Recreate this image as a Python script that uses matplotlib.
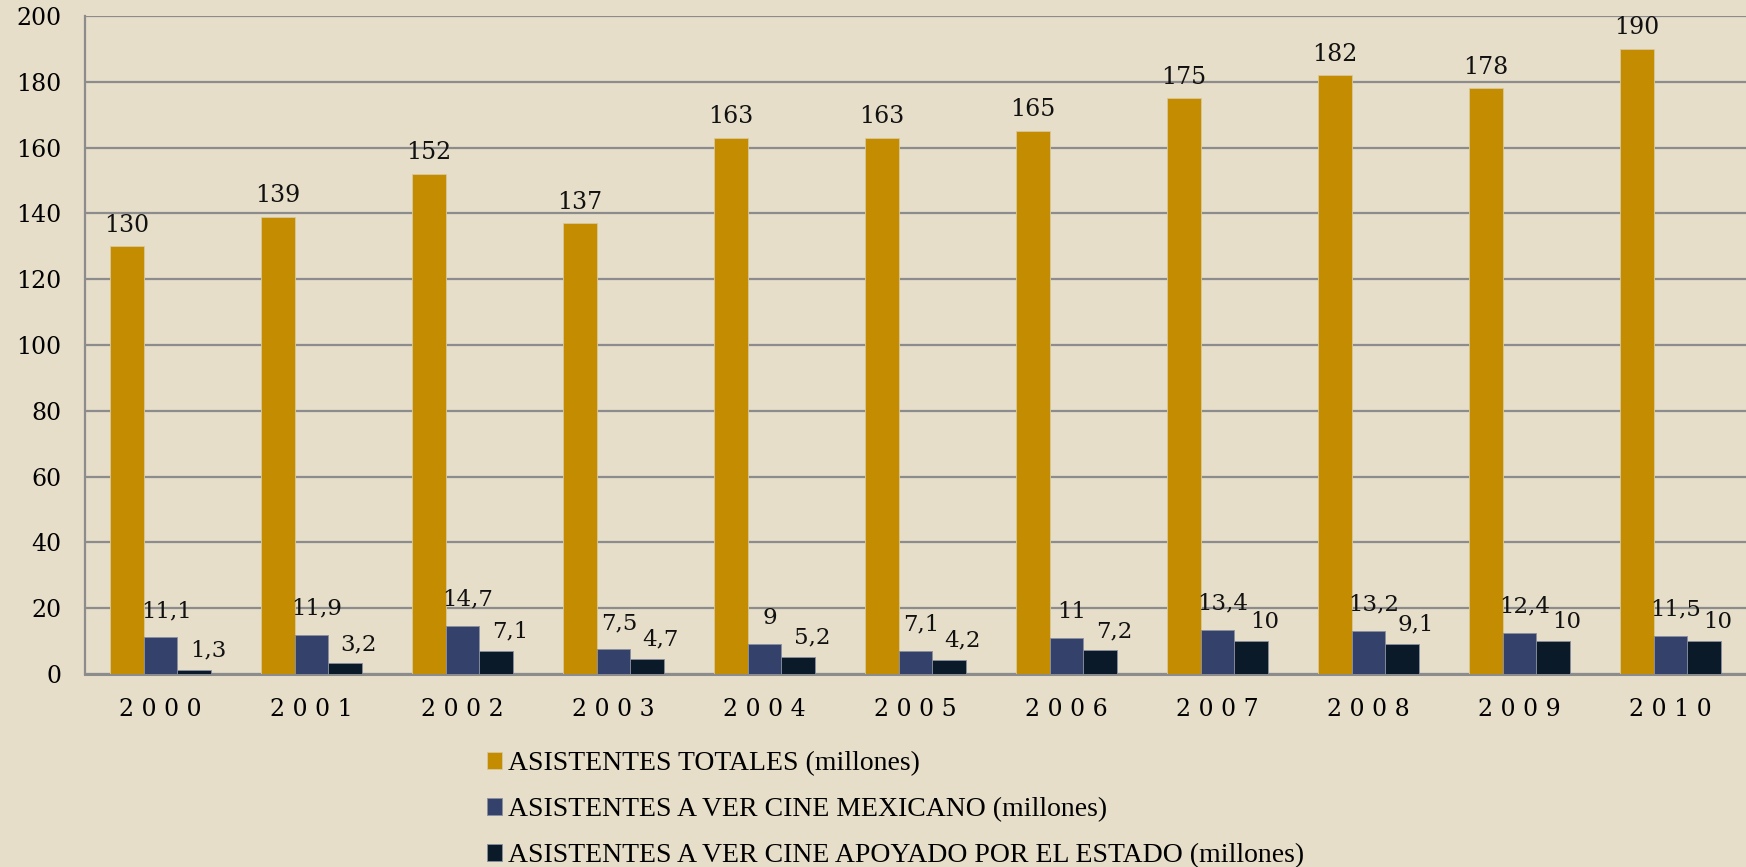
import numpy as np
import matplotlib.pyplot as plt

years = ['2000', '2001', '2002', '2003', '2004', '2005', '2006', '2007', '2008', '2009', '2010']
totales = [130, 139, 152, 137, 163, 163, 165, 175, 182, 178, 190]
mexicano = [11.1, 11.9, 14.7, 7.5, 9, 7.1, 11, 13.4, 13.2, 12.4, 11.5]
apoyado = [1.3, 3.2, 7.1, 4.7, 5.2, 4.2, 7.2, 10, 9.1, 10, 10]
series_names = [
    'ASISTENTES TOTALES (millones)',
    'ASISTENTES A VER CINE MEXICANO (millones)',
    'ASISTENTES A VER CINE APOYADO POR EL ESTADO (millones)',
]

bg = '#E6DEC9'
colors = ['#C48C00', '#34416A', '#0A1A28']
num_font = 'DejaVu Serif'
# label nudges (points) per series, the small ones sit a bit to the right
label_dx = [0, 4, 10]
label_dy = [7, 11, 6]


def fmt(v):
    # comma decimal, like the original labels
    if float(v).is_integer():
        return str(int(v))
    return f'{v:.1f}'.replace('.', ',')


fig = plt.figure(figsize=(17.46, 8.67), dpi=100, facecolor=bg)
ax = fig.add_axes([0.0487, 0.2226, 0.9513, 0.7589])
ax.set_facecolor(bg)

x = np.arange(len(years))
w = 0.222
handles = []
for i, (vals, c) in enumerate(zip([totales, mexicano, apoyado], colors)):
    b = ax.bar(x + (i - 1) * w, vals, w, color=c, edgecolor='#d8c89a' if i == 0 else '#8a8fa0',
               linewidth=0.6, zorder=3)
    handles.append(b)
    for xi, v in zip(x + (i - 1) * w, vals):
        ax.annotate(fmt(v), (xi, v), xytext=(label_dx[i], label_dy[i]), textcoords='offset points',
                    ha='center', va='bottom', fontsize=16.5 if i else 17, family=num_font,
                    color='#111111', zorder=4)

ax.set_xlim(-0.5, len(years) - 0.5)
ax.set_ylim(0, 200)
ax.set_yticks(range(0, 201, 20))
ax.set_xticks(x)
ax.set_xticklabels([' '.join(y) for y in years], family=num_font, fontsize=17)
for lab in ax.get_yticklabels():
    lab.set_family(num_font)
    lab.set_fontsize(17)
ax.tick_params(axis='y', length=0, pad=17)
ax.tick_params(axis='x', length=0, pad=17)
ax.yaxis.grid(True, color='#8C8C8C', linewidth=1.6, zorder=0)
ax.set_axisbelow(True)
for s in ['top', 'right']:
    ax.spines[s].set_visible(False)
ax.spines['left'].set_color('#8C8C8C')
ax.spines['left'].set_linewidth(1.6)
ax.spines['bottom'].set_color('#8C8C8C')
ax.spines['bottom'].set_linewidth(2.2)

leg = fig.legend(handles, series_names, loc='upper left', bbox_to_anchor=(0.2789, 0.1335),
                 frameon=False, prop={'family': 'Liberation Serif', 'size': 20},
                 handlelength=0.55, handleheight=0.55, handletextpad=0.22, labelspacing=0.76,
                 borderpad=0, borderaxespad=0)

plt.savefig('out.png', dpi=100, facecolor=bg)
